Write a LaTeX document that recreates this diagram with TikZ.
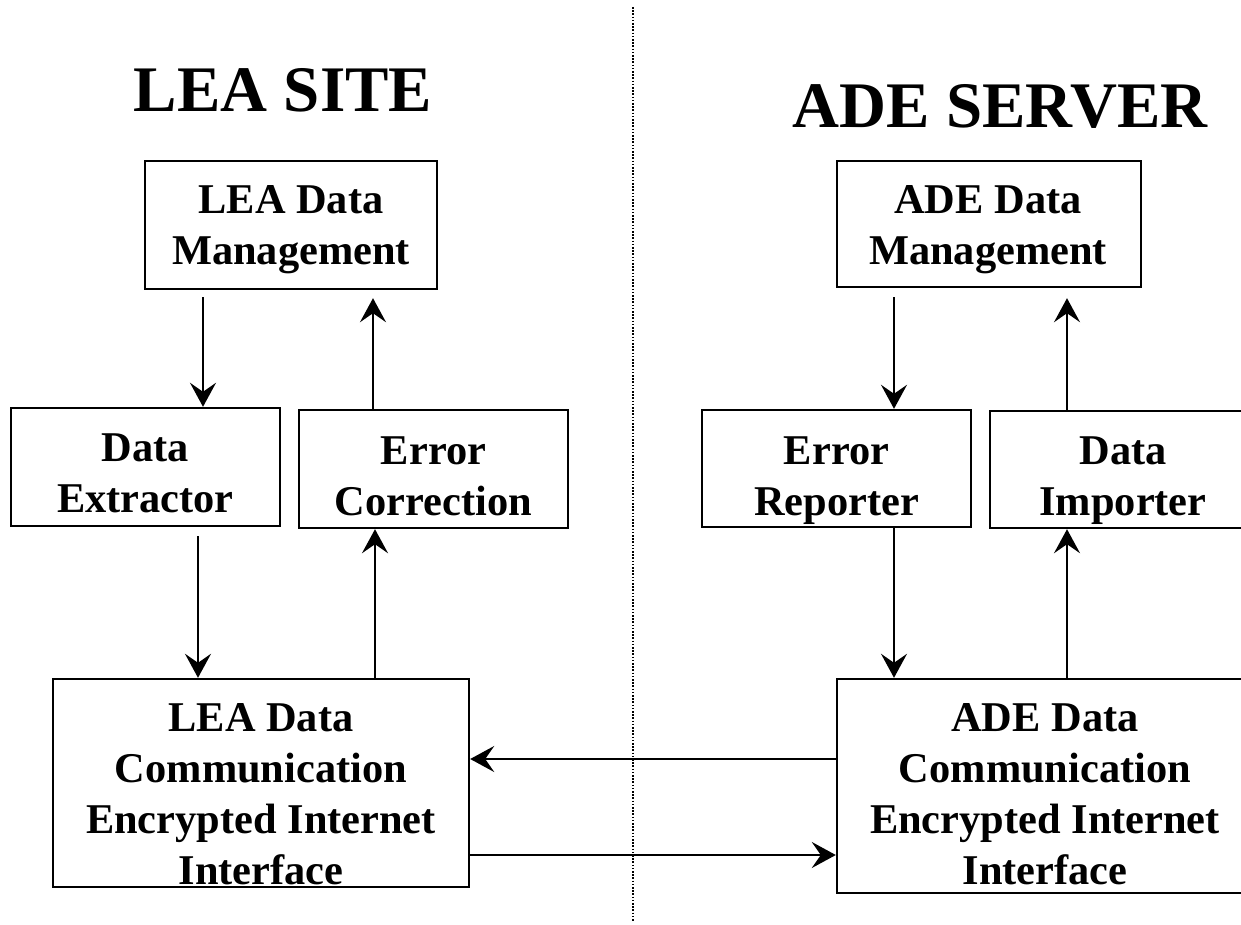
\documentclass[tikz,border=0pt]{standalone}
\usepackage{fontspec}
\setmainfont{Liberation Serif}
\usetikzlibrary{arrows.meta}
\begin{document}
\begin{tikzpicture}[x=1pt,y=-1pt,
  box/.style={draw, line width=2.4pt, inner sep=0pt},
  boxtext/.style={inner sep=0pt, align=center, font={\bfseries\fontsize{42.4}{51}\selectfont}},
  title/.style={inner sep=0pt, font={\bfseries\fontsize{65}{70}\selectfont}},
  arr/.style={-{Stealth[length=24pt,width=26pt,inset=9pt]}, line width=2.2pt},
  divider/.style={line width=1.6pt, dash pattern=on 1.6pt off 1.6pt}]
\useasboundingbox (0,0) rectangle (1241,925);
\clip (0,0) rectangle (1241,925);

% divider
\coordinate (dtop) at (633,7);
\coordinate (dbot) at (633,922);
\draw[divider] (dtop) -- (dbot);

% titles
\node[title, anchor=base] (leaT) at (283,112) {LEA SITE};
\node[title, anchor=base] (adeT) at (1000,128) {ADE SERVER};

% boxes
\node[box, minimum width=292pt, minimum height=128pt] (ldm) at (291,225) {};
\node[box, minimum width=304pt, minimum height=126pt] (adm) at (989,224) {};
\node[box, minimum width=269pt, minimum height=118pt] (dext) at (145.5,467) {};
\node[box, minimum width=269pt, minimum height=118pt] (ecor) at (433.5,469) {};
\node[box, minimum width=269pt, minimum height=117pt] (erep) at (836.5,468.5) {};
\node[box, minimum width=266pt, minimum height=117pt] (dimp) at (1123,469.5) {};
\node[box, minimum width=416pt, minimum height=208pt] (lcomm) at (261,783) {};
\node[box, minimum width=416pt, minimum height=214pt] (acomm) at (1045,786) {};

% box texts
\node[boxtext] (ldmT) at (291,229.5) {LEA Data\\Management};
\node[boxtext] (admT) at (988,229.5) {ADE Data\\Management};
\node[boxtext] (dextT) at (145.5,473) {Data\\Extractor};
\node[boxtext] (ecorT) at (433.5,476) {Error\\Correction};
\node[boxtext] (erepT) at (836.5,480.5) {Error\\Reporter};
\node[boxtext] (dimpT) at (1123,480.5) {Data\\Importer};
\node[boxtext] (lcommT) at (261,794.5) {LEA Data\\Communication\\Encrypted Internet\\Interface};
\node[boxtext] (acommT) at (1045,794.5) {ADE Data\\Communication\\Encrypted Internet\\Interface};

% connectors, LEA side
\draw[arr, shorten <=7pt] (ldm.south -| 203,0) -- (dext.north -| 203,0);
\draw[arr, shorten >=8pt] (ecor.north -| 373,0) -- (ldm.south -| 373,0);
\draw[arr, shorten <=9pt] (dext.south -| 198,0) -- (lcomm.north -| 198,0);
\draw[arr] (lcomm.north -| 375,0) -- (ecor.south -| 375,0);

% connectors between sites
\draw[arr] (acomm.west |- 0,759) -- (lcomm.east |- 0,759);
\draw[arr] (lcomm.east |- 0,855) -- (acomm.west |- 0,855);

% connectors, ADE side
\draw[arr, shorten <=9pt] (adm.south -| 894,0) -- (erep.north -| 894,0);
\draw[arr, shorten >=10pt] (dimp.north -| 1067,0) -- (adm.south -| 1067,0);
\draw[arr] (erep.south -| 894,0) -- (acomm.north -| 894,0);
\draw[arr] (acomm.north -| 1067,0) -- (dimp.south -| 1067,0);
\end{tikzpicture}
\end{document}
